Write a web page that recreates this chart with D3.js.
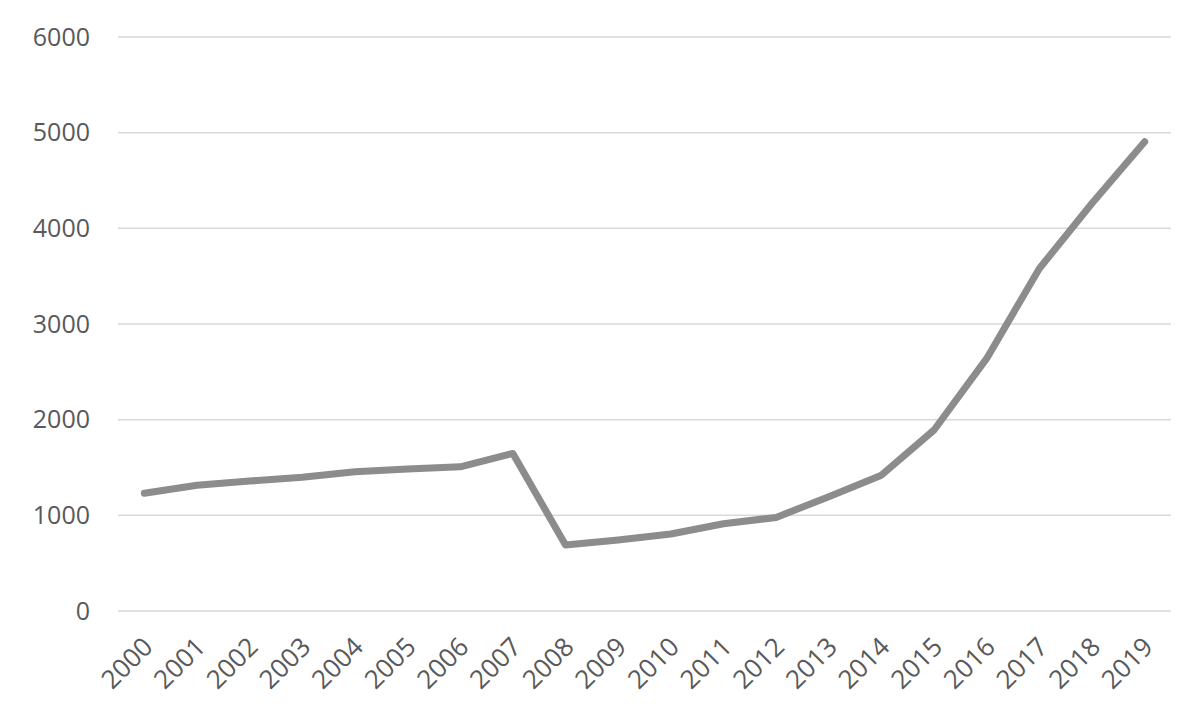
<!DOCTYPE html>
<html>
<head>
<meta charset="utf-8">
<script src="https://cdn.jsdelivr.net/npm/d3@7"></script>
<style>
    body { margin: 0; background: #fff; }
    svg text { font-family: "Open Sans", "Noto Sans", sans-serif; fill: #595959; }
</style>
</head>
<body>
<svg id="chart" width="1200" height="722"></svg>
<script>
const years = ["2000", "2001", "2002", "2003", "2004", "2005", "2006", "2007", "2008", "2009",
    "2010", "2011", "2012", "2013", "2014", "2015", "2016", "2017", "2018", "2019"];
const values = [1230, 1315, 1358, 1397, 1455, 1485, 1507, 1647, 690, 742,
    805, 912, 978, 1195, 1420, 1892, 2640, 3580, 4262, 4905];
const yTicks = [0, 1000, 2000, 3000, 4000, 5000, 6000];

const svg = d3.select("#chart");
const plotLeft = 118, plotRight = 1171, plotTop = 37, plotBottom = 611;

const x = d3.scalePoint().domain(years).range([plotLeft, plotRight]).padding(0.5);
const y = d3.scaleLinear().domain([0, 6000]).range([plotBottom, plotTop]);

// gridlines
svg.append("g")
    .selectAll("line")
    .data(yTicks)
    .enter()
    .append("line")
    .attr("x1", plotLeft)
    .attr("x2", plotRight)
    .attr("y1", d => y(d))
    .attr("y2", d => y(d))
    .attr("stroke", "#d9d9d9")
    .attr("stroke-width", 1.5);

// y axis labels
const yAxis = svg.append("g")
    .attr("transform", `translate(${plotLeft - 28},0)`)
    .call(d3.axisLeft(y).tickValues(yTicks).tickFormat(d3.format("d")).tickSize(0).tickPadding(0));
yAxis.select(".domain").remove();
yAxis.selectAll("text")
    .style("font-size", "25px")
    .attr("fill", "#595959");

// x axis labels
const xAxis = svg.append("g")
    .attr("transform", `translate(0,${plotBottom})`)
    .call(d3.axisBottom(x).tickSize(0).tickPadding(0));
xAxis.select(".domain").remove();
xAxis.selectAll("text")
    .style("font-size", "26px")
    .attr("fill", "#595959")
    .attr("text-anchor", "end")
    .attr("dy", "0.35em")
    .attr("transform", "translate(3,31) rotate(-45)");

// the line
const line = d3.line()
    .x((d, i) => x(years[i]))
    .y(d => y(d));

svg.append("path")
    .datum(values)
    .attr("d", line)
    .attr("fill", "none")
    .attr("stroke", "#8c8c8c")
    .attr("stroke-width", 7)
    .attr("stroke-linejoin", "round")
    .attr("stroke-linecap", "round");
</script>
</body>
</html>
